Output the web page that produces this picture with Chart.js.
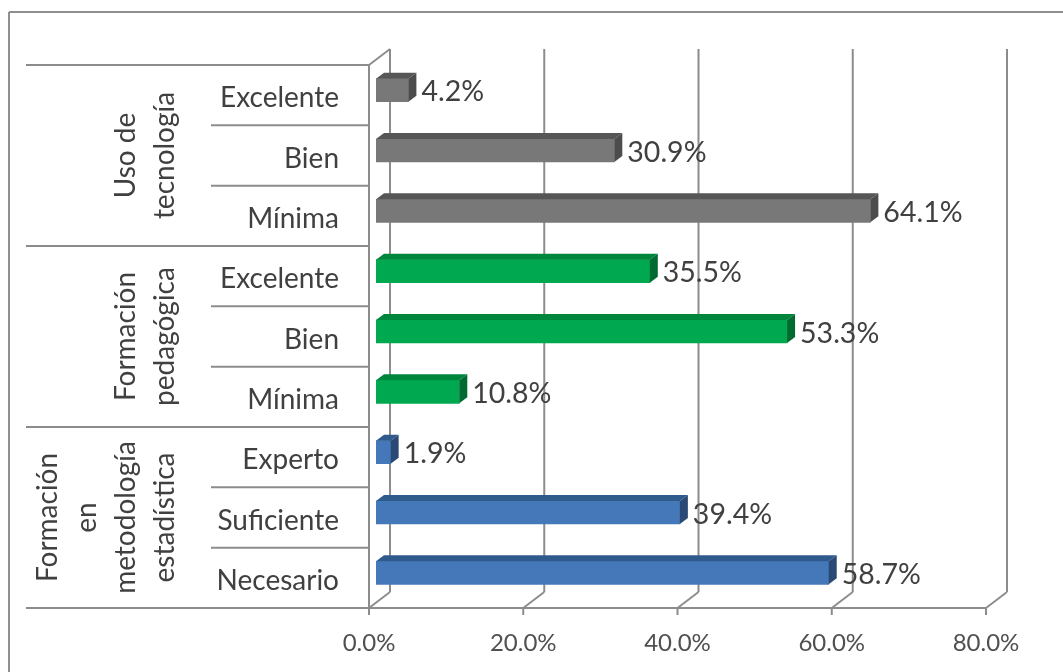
<!DOCTYPE html>
<html>
<head>
<meta charset="utf-8">
<title>Formación docente</title>
<script src="https://cdn.jsdelivr.net/npm/chart.js"></script>
<style>
    html, body { margin: 0; padding: 0; background: #fff; }
    #wrap { position: relative; width: 1063px; height: 672px; }
</style>
</head>
<body>
<div id="wrap"><canvas id="chart" width="1063" height="672"></canvas></div>
<script>
// Chart data, top to bottom
const categories = ['Excelente', 'Bien', 'Mínima', 'Excelente', 'Bien', 'Mínima', 'Experto', 'Suficiente', 'Necesario'];
const values = [4.2, 30.9, 64.1, 35.5, 53.3, 10.8, 1.9, 39.4, 58.7];
const barColors = ['#787878', '#787878', '#787878', '#00a94f', '#00a94f', '#00a94f', '#4478b9', '#4478b9', '#4478b9'];
const topColors = ['#565656', '#565656', '#565656', '#00853d', '#00853d', '#00853d', '#2f5a8c', '#2f5a8c', '#2f5a8c'];
const sideColors = ['#4c4c4c', '#4c4c4c', '#4c4c4c', '#006a30', '#006a30', '#006a30', '#2a4a75', '#2a4a75', '#2a4a75'];
const xTicks = [0, 20, 40, 60, 80];
const groupNames = [['Uso de', 'tecnología'], ['Formación', 'pedagógica'], ['Formación', 'en', 'metodología', 'estadística']];
const groupSize = 3;

const FONT = 'Lato, sans-serif';
const GRID = '#8c8c8c';
const DEPTH_X = 21, DEPTH_Y = 16;       // back wall offset
const BAR_X = 7, BAR_Y = -5;            // bars sit inside the 3d box
const FACE_X = 8, FACE_Y = 6;           // depth of each bar

function line(ctx, x1, y1, x2, y2) {
    ctx.beginPath();
    ctx.moveTo(x1, y1);
    ctx.lineTo(x2, y2);
    ctx.stroke();
}

function face(ctx, color, pts) {
    ctx.fillStyle = color;
    ctx.beginPath();
    pts.forEach((p, i) => i ? ctx.lineTo(p[0], p[1]) : ctx.moveTo(p[0], p[1]));
    ctx.closePath();
    ctx.fill();
}

// Outer border, back wall and the two level category axis
const boxPlugin = {
    id: 'box',
    beforeDatasetsDraw(chart) {
        const { ctx, chartArea: a, scales: { x, y } } = chart;
        ctx.save();
        ctx.strokeStyle = '#8f8f8f';
        ctx.lineWidth = 2;
        line(ctx, 9, 12, 1063, 12);
        line(ctx, 9, 12, 9, 672);

        ctx.strokeStyle = GRID;
        ctx.lineWidth = 2;
        xTicks.forEach(t => {
            const px = x.getPixelForValue(t);
            line(ctx, px + DEPTH_X, a.top - DEPTH_Y, px + DEPTH_X, a.bottom - DEPTH_Y);
            line(ctx, px, a.bottom, px + DEPTH_X, a.bottom - DEPTH_Y);
            line(ctx, px, a.bottom, px, a.bottom + 7);
        });
        line(ctx, a.left, a.top, a.left + DEPTH_X, a.top - DEPTH_Y);
        line(ctx, a.left, a.top, a.left, a.bottom);
        line(ctx, a.left, a.bottom, a.right, a.bottom);

        // separators between categories and groups
        const step = (a.bottom - a.top) / categories.length;
        for (let i = 0; i <= categories.length; i++) {
            const py = a.top + step * i;
            line(ctx, i % groupSize === 0 ? 26 : 211, py, a.left, py);
        }

        // rotated group names
        ctx.fillStyle = '#404040';
        ctx.font = '28px ' + FONT;
        ctx.textAlign = 'center';
        ctx.textBaseline = 'middle';
        groupNames.forEach((lines, g) => {
            const cy = a.top + step * (g * groupSize + groupSize / 2);
            const rightX = 165;
            lines.forEach((txt, i) => {
                ctx.save();
                ctx.translate(rightX - (lines.length - 1 - i) * 39, cy);
                ctx.rotate(-Math.PI / 2);
                ctx.fillText(txt, 0, 0);
                ctx.restore();
            });
        });
        ctx.restore();

        // shift the bars off the front plane
        ctx.save();
        ctx.translate(BAR_X, BAR_Y);
    },
    afterDatasetsDraw(chart) {
        const { ctx } = chart;
        chart.getDatasetMeta(0).data.forEach((bar, i) => {
            const top = bar.y - bar.height / 2;
            const bottom = bar.y + bar.height / 2;
            face(ctx, topColors[i], [[bar.base, top], [bar.base + FACE_X, top - FACE_Y], [bar.x + FACE_X, top - FACE_Y], [bar.x, top]]);
            face(ctx, sideColors[i], [[bar.x, top], [bar.x + FACE_X, top - FACE_Y], [bar.x + FACE_X, bottom - FACE_Y], [bar.x, bottom]]);
        });
        ctx.restore();

        // value labels
        ctx.save();
        ctx.fillStyle = '#404040';
        ctx.font = '28.5px ' + FONT;
        ctx.textAlign = 'left';
        ctx.textBaseline = 'middle';
        chart.getDatasetMeta(0).data.forEach((bar, i) => {
            ctx.fillText(values[i].toFixed(1) + '%', bar.x + BAR_X + FACE_X + 5, bar.y + BAR_Y + 2);
        });
        ctx.restore();
    }
};

new Chart(document.getElementById('chart'), {
    type: 'bar',
    data: {
        labels: categories,
        datasets: [{
            data: values,
            backgroundColor: barColors,
            borderWidth: 0,
            barThickness: 23
        }]
    },
    options: {
        indexAxis: 'y',
        responsive: false,
        animation: false,
        layout: { padding: { left: 26, right: 77, top: 65, bottom: 0 } },
        plugins: { legend: { display: false }, tooltip: { enabled: false } },
        scales: {
            x: {
                min: 0,
                max: 80,
                afterFit: scale => { scale.height = 64; },
                afterBuildTicks: scale => { scale.ticks = xTicks.map(v => ({ value: v })); },
                grid: { display: false },
                border: { display: false },
                ticks: {
                    padding: 13,
                    maxRotation: 0,
                    color: '#505050',
                    font: { family: FONT, size: 24 },
                    callback: v => v.toFixed(1) + '%'
                }
            },
            y: {
                afterFit: scale => { scale.width = 343; },
                grid: { display: false },
                border: { display: false },
                ticks: {
                    padding: 22,
                    labelOffset: 3,
                    color: '#404040',
                    font: { family: FONT, size: 28 }
                }
            }
        }
    },
    plugins: [boxPlugin]
});
</script>
</body>
</html>
